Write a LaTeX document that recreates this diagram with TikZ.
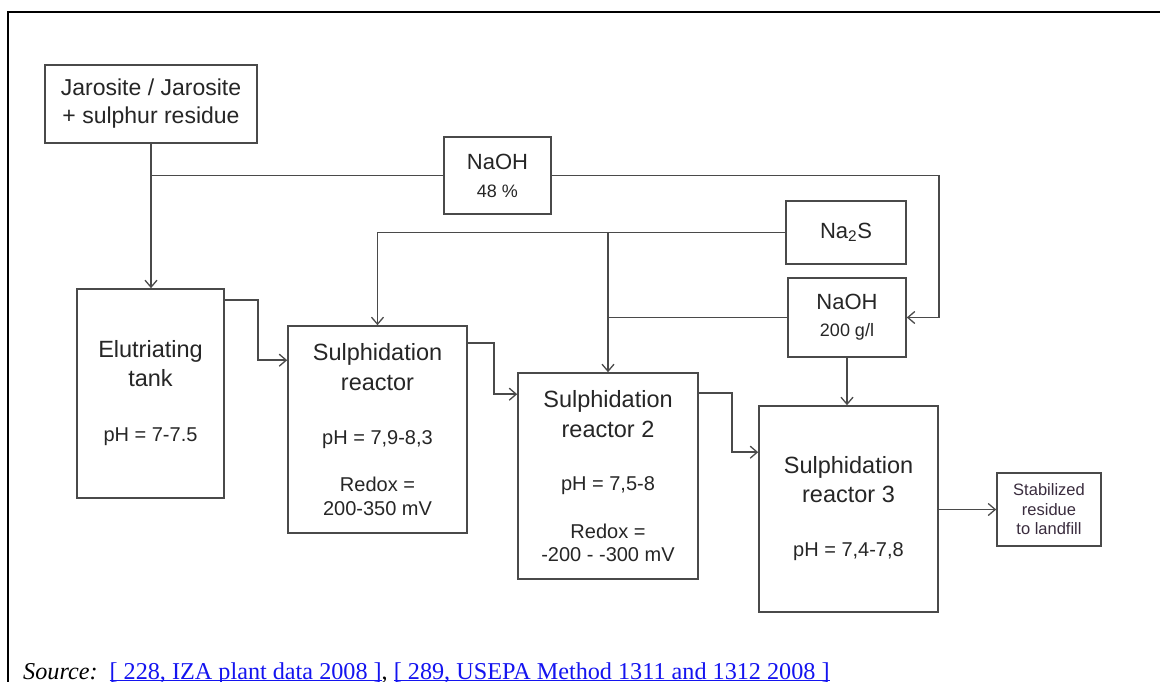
\documentclass[tikz,border=0pt]{standalone}
\usepackage{fontspec}
\setmainfont{Liberation Sans}
\newfontfamily\serifsrc{Liberation Serif}
\usetikzlibrary{arrows.meta}
\definecolor{ln}{HTML}{4A4A4A}
\definecolor{tx}{HTML}{262626}
\definecolor{lk}{HTML}{1414F0}
\definecolor{stx}{HTML}{3A2C3E}
\newcommand\smtxt[1]{{\fontsize{20}{26}\selectfont #1}}
\newcommand\naohsm[1]{{\fontsize{18}{26}\selectfont #1}}
\newcommand\lnk[1]{\textcolor{lk}{\underline{\smash{#1}}}}
\begin{document}
\begin{tikzpicture}[x=1pt,y=-1pt,
  box/.style={draw=ln, line width=1.6pt, fill=white, inner sep=0pt, align=center, text=tx},
  ttl/.style={font=\fontsize{23.5}{26}\selectfont},
  conn/.style={draw=ln, line width=1.7pt},
  arr/.style={conn, -{Straight Barb[length=7pt,width=12pt,line width=1.3pt]}}]
\useasboundingbox (0,0) rectangle (1160,682);
\fill[white] (0,0) rectangle (1160,682);
% frame
\draw[black, line width=2.2pt] (7.7,690) -- (7.7,11.7) -- (1170,11.7);

% nodes
\node[box, font=\fontsize{23}{26}\selectfont, minimum width=212pt, minimum height=78pt] (jar) at (151,104)
  {Jarosite / Jarosite\\[2pt]+ sulphur residue};
\node[box, font=\fontsize{22}{26}\selectfont, minimum width=107pt, minimum height=77pt] (naohA) at (497.5,175.5)
  {NaOH\\[2pt]\naohsm{48 \%}};
\node[box, font=\fontsize{22}{26}\selectfont, minimum width=120pt, minimum height=63pt] (nas) at (846,232.5)
  {Na\textsubscript{2}S};
\node[box, font=\fontsize{22}{26}\selectfont, minimum width=118pt, minimum height=79pt] (naohB) at (847,317.5)
  {NaOH\\[1pt]\naohsm{200 g/l}};
\node[box, ttl, minimum width=147pt, minimum height=209pt] (elu) at (150.5,393.5)
  {Elutriating\\[3pt]tank\\[29pt]\smtxt{pH = 7-7.5}};
\node[box, ttl, minimum width=179pt, minimum height=207pt] (ra) at (377.5,429.5)
  {Sulphidation\\[4pt]reactor\\[28pt]\smtxt{pH = 7,9-8,3}\\[21pt]\smtxt{Redox =}\\[-2pt]\smtxt{200-350 mV}};
\node[box, ttl, minimum width=180pt, minimum height=206pt] (rb) at (608,476)
  {Sulphidation\\[4pt]reactor 2\\[27pt]\smtxt{pH = 7,5-8}\\[22pt]\smtxt{Redox =}\\[-3pt]\smtxt{-200 - -300 mV}};
\node[box, ttl, minimum width=179pt, minimum height=206pt] (rc) at (848.5,509)
  {Sulphidation\\[3pt]reactor 3\\[28pt]\smtxt{pH = 7,4-7,8}};
\node[box, text=stx, font=\fontsize{16.5}{19.5}\selectfont, minimum width=104pt, minimum height=73pt] (stab) at (1049,509.5)
  {Stabilized\\residue\\to landfill};

% connectors
\draw[arr] (jar.south) -- (jar.south |- elu.north);
\draw[conn] (naohA.west) -- (naohA.west -| jar.south);
\draw[arr] (naohA.east) -- (naohA.east -| rc.east) |- (naohB.east);
\draw[arr] (nas.west) -| (ra.north);
\draw[arr] (nas.west -| rb.north) -- (rb.north);
\draw[conn] (naohB.west) -- (naohB.west -| rb.north);
\draw[arr] (naohB.south) -- (naohB.south |- rc.north);
\draw[arr] ([yshift=-12pt]elu.north east) -- ++(33,0) |- ([yshift=-35pt]ra.north west);
\draw[arr] ([yshift=-18pt]ra.north east) -- ++(26,0) |- ([yshift=-22pt]rb.north west);
\draw[arr] ([yshift=-21pt]rb.north east) -- ++(33,0) |- ([yshift=-47pt]rc.north west);
\draw[arr] (rc.east |- stab.west) -- (stab.west);

% source line
\node[anchor=base west, inner sep=0pt] (src) at (23,679)
  {\serifsrc\fontsize{24.2}{28}\selectfont\textit{Source:}\hspace{12pt}\lnk{[ 228, IZA plant data 2008 ]}, \lnk{[ 289, USEPA Method 1311 and 1312 2008 ]}};
\end{tikzpicture}
\end{document}
